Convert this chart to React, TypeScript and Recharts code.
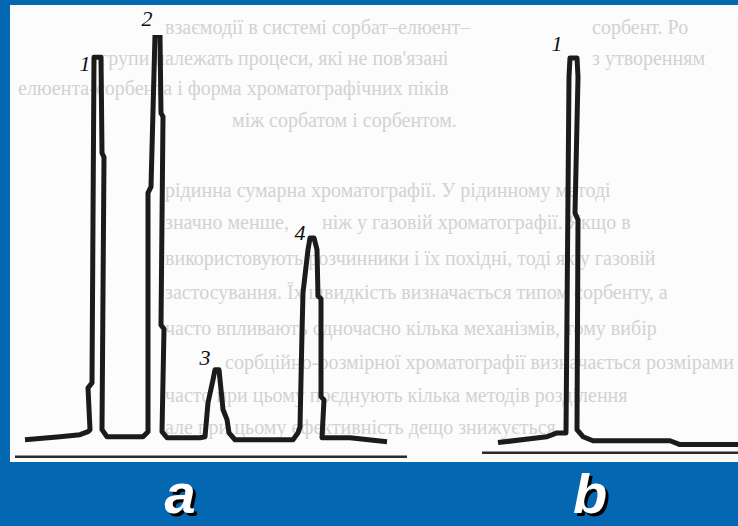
import React from "react";
import { LineChart, Line, XAxis, YAxis, ReferenceLine, ReferenceDot } from "recharts";

// chromatogram a: retention time (min) and detector signal (arb. units)
const timeA = [
  0.75, 2.5, 3.5, 3.9, 4.0, 3.9, 4.1, 4.2, 4.55, 4.6, 4.7, 4.6, 4.85, 6.65, 6.9, 6.9, 7.05,
  7.25, 7.5, 7.55, 7.65, 7.55, 7.7, 7.6, 7.85, 9.5, 9.75, 9.9, 10.15, 10.25, 10.45, 10.65,
  10.85, 10.95, 11.25, 14.15, 14.4, 14.5, 14.6, 14.65, 14.9, 15.0, 15.2, 15.35, 15.4, 15.55,
  15.55, 15.7, 15.6, 17.0, 18.85,
];
const signalA = [
  -0.5, 0.25, 0.75, 1.5, 2.0, 12.4, 13.6, 94.5, 94.5, 70.7, 69.7, 2.0, 0.25, 0.25, 1.5, 60.8,
  62.3, 100, 100, 80.6, 79.7, 28.0, 27.0, 1.5, 0, 0, 0.25, 8.7, 14.4, 16.9, 16.9, 7.0, 4.5,
  1.2, -0.5, -0.5, 1.2, 2.7, 26.1, 36.0, 46.7, 49.6, 49.6, 46.7, 35.2, 34.5, 10.2, 9.4, 0, 0,
  -1.0,
];

// chromatogram b
const timeB = [0.8, 2.4, 3.25, 3.75, 4.2, 4.35, 4.4, 4.75, 4.8, 4.65, 4.8, 4.75, 5.05, 5.55, 9.4, 9.9, 12.8];
const signalB = [-1.2, -0.25, 0.25, 1.2, 1.2, 89.6, 94.3, 94.3, 89.6, 55.8, 54.1, 2.0, 0.25, -0.75, -0.75, -1.7, -1.7];

// peak numbers and where they are written
const peakNamesA = ["1", "2", "3", "4"];
const peakLabelTimeA = [3.75, 6.85, 9.75, 14.5];
const peakLabelSignalA = [93.1, 104.2, 20.1, 51.1];
const peakNamesB = ["1"];
const peakLabelTimeB = [3.75];
const peakLabelSignalB = [98.0];

// recorder zero lines
const zeroLineA = { from: 0.25, to: 19.85, level: -4.7 };
const zeroLineB = { from: 0, to: 12.8, level: -3.7 };

// faded page text behind the figure
const pageText = [
  "взаємодії в системі сорбат–елюент–",
  "сорбент. Ро",
  "групи належать процеси, які не пов'язані",
  "з утворенням",
  "елюента-сорбента і форма хроматографічних піків",
  "між сорбатом і сорбентом.",
  "рідинна сумарна хроматографії. У рідинному методі",
  "значно менше,",
  "ніж у газовій хроматографії. Якщо в",
  "використовують розчинники і їх похідні, тоді як у газовій",
  "застосування. Їх швидкість визначається типом сорбенту, а",
  "часто впливають одночасно кілька механізмів, тому вибір",
  "сорбційно-розмірної хроматографії визначається розмірами",
  "часто при цьому поєднують кілька методів розділення",
  "але при цьому ефективність дещо знижується",
];
// page coordinates (left, middle) of each text run
const pageTextPos = [
  [165, 27], [592, 27], [100, 58], [592, 58], [18, 88], [232, 120], [165, 190], [165, 222],
  [322, 222], [165, 258], [165, 292], [165, 328], [225, 362], [165, 395], [165, 427],
];

const dataA = timeA.map((t, i) => ({ t, s: signalA[i] }));
const dataB = timeB.map((t, i) => ({ t, s: signalB[i] }));

const BLUE = "#0467b1";
const INK = "#1b1b1b";

const labelStyle = {
  position: "center" as const,
  fill: "#111",
  fontSize: 22,
  fontStyle: "italic",
  fontFamily: "Liberation Serif",
};

interface ChromProps {
  data: { t: number; s: number }[];
  width: number;
  maxTime: number;
  names: string[];
  labelTime: number[];
  labelSignal: number[];
  zero: { from: number; to: number; level: number };
}

const Chromatogram: React.FC<ChromProps> = ({ data, width, maxTime, names, labelTime, labelSignal, zero }) => (
  <LineChart width={width} height={473} data={data} margin={{ top: 30, right: 0, bottom: 0, left: 0 }}>
    <XAxis dataKey="t" type="number" domain={[0, maxTime]} hide allowDataOverflow />
    <YAxis type="number" domain={[-10, 100]} hide allowDataOverflow />
    <ReferenceLine
      segment={[
        { x: zero.from, y: zero.level },
        { x: zero.to, y: zero.level },
      ]}
      stroke="#2a2a2a"
      strokeWidth={2.5}
    />
    <Line
      dataKey="s"
      type="linear"
      stroke={INK}
      strokeWidth={5}
      strokeLinejoin="round"
      dot={false}
      activeDot={false}
      isAnimationActive={false}
    />
    {names.map((n, i) => (
      <ReferenceDot
        key={n + i}
        x={labelTime[i]}
        y={labelSignal[i]}
        r={1}
        fill="none"
        stroke="none"
        ifOverflow="visible"
        label={{ value: n, ...labelStyle }}
      />
    ))}
  </LineChart>
);

const panelLetter = {
  position: "absolute" as const,
  top: 463,
  width: 80,
  textAlign: "center" as const,
  fontFamily: "Liberation Sans",
  fontWeight: 700,
  fontStyle: "italic",
  fontSize: 56,
  lineHeight: "62px",
  color: "#fff",
  textShadow: "3px 3px 0 #000",
};

export default function App() {
  return (
    <div style={{ position: "absolute", left: 0, top: 0, width: 738, height: 526, background: BLUE, overflow: "hidden" }}>
      <div style={{ position: "absolute", left: 10, top: 5, width: 728, height: 457, background: "#fcfcfc", overflow: "hidden" }}>
        {pageText.map((line, i) => (
          <div
            key={i}
            style={{
              position: "absolute",
              left: pageTextPos[i][0] - 10,
              top: pageTextPos[i][1] - 5 - 9.5,
              whiteSpace: "nowrap",
              fontFamily: "Liberation Serif",
              fontSize: 20,
              lineHeight: "19px",
              color: "#d2d2d2",
            }}
          >
            {line}
          </div>
        ))}
      </div>
      <div style={{ position: "absolute", left: 10, top: 5 }}>
        <Chromatogram
          data={dataA}
          width={400}
          maxTime={20}
          names={peakNamesA}
          labelTime={peakLabelTimeA}
          labelSignal={peakLabelSignalA}
          zero={zeroLineA}
        />
      </div>
      <div style={{ position: "absolute", left: 482, top: 5 }}>
        <Chromatogram
          data={dataB}
          width={256}
          maxTime={12.8}
          names={peakNamesB}
          labelTime={peakLabelTimeB}
          labelSignal={peakLabelSignalB}
          zero={zeroLineB}
        />
      </div>
      <div style={{ ...panelLetter, left: 140 }}>a</div>
      <div style={{ ...panelLetter, left: 550 }}>b</div>
    </div>
  );
}
